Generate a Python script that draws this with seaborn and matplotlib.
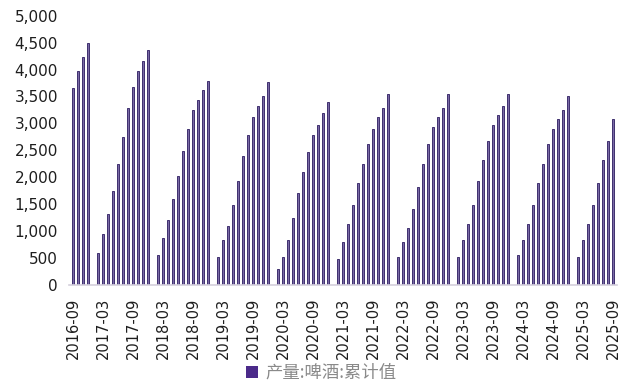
import numpy as np
import pandas as pd
import matplotlib
matplotlib.use("Agg")
import matplotlib.pyplot as plt
import seaborn as sns
from matplotlib.patches import Patch

# Cumulative beer production (10k kL); China reports Jan-Feb combined, so each year starts in Feb
v2016 = [3650, 3980, 4230, 4490]                                              # Sep-Dec
v2017 = [590, 950, 1310, 1745, 2250, 2755, 3290, 3680, 3980, 4160, 4370]      # Feb-Dec
v2018 = [550, 880, 1200, 1600, 2030, 2495, 2895, 3255, 3435, 3620, 3795]
v2019 = [520, 840, 1095, 1490, 1925, 2395, 2790, 3115, 3330, 3510, 3765]
v2020 = [305, 520, 840, 1240, 1710, 2105, 2465, 2790, 2970, 3185, 3405]
v2021 = [490, 805, 1125, 1490, 1885, 2245, 2610, 2895, 3115, 3290, 3545]
v2022 = [520, 805, 1060, 1415, 1815, 2245, 2610, 2935, 3115, 3290, 3545]
v2023 = [520, 840, 1125, 1490, 1925, 2320, 2680, 2970, 3150, 3330, 3540]
v2024 = [550, 840, 1125, 1490, 1885, 2245, 2610, 2895, 3075, 3255, 3510]
v2025 = [520, 840, 1125, 1490, 1885, 2320, 2680, 3075]                        # Feb-Sep

series_label = "产量:啤酒:累计值"
y_ticks = list(range(0, 5001, 500))

# build month slots 2016-09 .. 2025-09
months = pd.period_range("2016-09", "2025-09", freq="M")
month_labels = [m.strftime("%Y-%m") for m in months]

vals = {}
def put(year, start_month, values):
    for i, v in enumerate(values):
        vals[f"{year}-{start_month + i:02d}"] = v

put(2016, 9, v2016)
for yr, arr in zip(range(2017, 2026), [v2017, v2018, v2019, v2020, v2021, v2022, v2023, v2024, v2025]):
    put(yr, 2, arr)

df = pd.DataFrame({"month": list(vals.keys()), "value": list(vals.values())})

sns.set_theme(style="white")
plt.rcParams["font.family"] = ["DejaVu Sans", "Noto Sans CJK SC"]

fig = plt.figure(figsize=(6.24, 3.87), dpi=100)
ax = fig.add_axes([69/624, 1 - 285/387, (617 - 69)/624, (285 - 15.7)/387])

sns.barplot(data=df, x="month", y="value", order=month_labels, color="#7A6AA6",
            width=0.5, saturation=1, ax=ax, edgecolor="#3F2F6E", linewidth=0.7)

ax.set_xlim(-0.8, len(month_labels) - 0.2)
ax.set_ylim(0, 5000)
ax.set_yticks(y_ticks)
ax.set_yticklabels([f"{t:,}" for t in y_ticks], fontsize=11, color="#1E1E1E", fontweight="medium")
tick_pos = list(range(0, len(month_labels), 6))
ax.set_xticks(tick_pos)
ax.set_xticklabels([month_labels[i] for i in tick_pos], rotation=90, fontsize=10.5, color="#1E1E1E")
ax.tick_params(axis="both", length=0)
ax.tick_params(axis="x", pad=9)
ax.tick_params(axis="y", pad=8)
ax.set_xlabel("")
ax.set_ylabel("")
for s in ["top", "right", "left"]:
    ax.spines[s].set_visible(False)
ax.spines["bottom"].set_color("#D4D0DC")
ax.spines["bottom"].set_linewidth(1.2)

handle = Patch(facecolor="#4B2A8A", edgecolor="none")
fig.legend([handle], [series_label], loc="center", bbox_to_anchor=(0.515, 1 - 373/387),
           frameon=False, handlelength=0.7, handleheight=0.7, handletextpad=0.4,
           prop={"family": ["Noto Sans CJK SC"], "size": 12.5}, labelcolor="#8A8A8A")

fig.savefig("out.png", dpi=100)
